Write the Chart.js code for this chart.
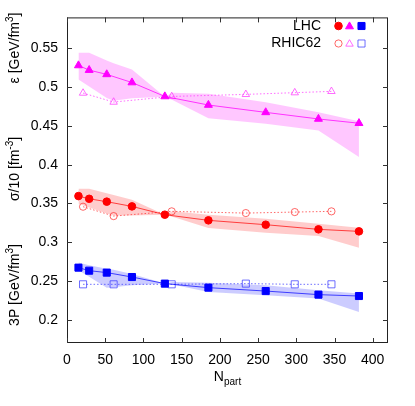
<!DOCTYPE html>
<html>
<head>
<meta charset="utf-8">
<script src="https://cdn.jsdelivr.net/npm/chart.js@4/dist/chart.umd.min.js"></script>
<style>
html,body{margin:0;padding:0;background:#fff;}
canvas{display:block;}
</style>
</head>
<body>
<canvas id="c" width="415" height="406"></canvas>
<script>
// ---- data ----
const nLHC = [15, 29, 52, 85, 128, 185, 260, 329, 382];
const epsLHC = [0.528, 0.522, 0.5165, 0.506, 0.488, 0.477, 0.4675, 0.459, 0.4535];
const sigLHC = [0.3595, 0.356, 0.3523, 0.3462, 0.3355, 0.3282, 0.3226, 0.3166, 0.314];
const pLHC = [0.2672, 0.2633, 0.2608, 0.2551, 0.2466, 0.2414, 0.237, 0.2324, 0.2306];

const nRHIC = [21, 61, 137, 234, 298, 346];
const epsRHIC = [0.4924, 0.4808, 0.488, 0.4907, 0.4929, 0.4946];
const sigRHIC = [0.3458, 0.3337, 0.3398, 0.3376, 0.3389, 0.3398];
const pRHIC = [0.2457, 0.2457, 0.2457, 0.2466, 0.2457, 0.2457];

const nBand = [15, 29, 52, 61, 85, 128, 138, 185, 260, 329, 382];
const epsBandHi = [0.5443, 0.5443, 0.5344, 0.531, 0.5228, 0.4878, 0.4928, 0.4915, 0.4807, 0.4678, 0.4562];
const epsBandLo = [0.5099, 0.501, 0.486, 0.4825, 0.4858, 0.4878, 0.4835, 0.460, 0.4528, 0.4442, 0.4098];
const sigBandHi = [0.369, 0.369, 0.3631, 0.361, 0.3549, 0.3355, 0.3399, 0.3355, 0.3304, 0.3239, 0.3188];
const sigBandLo = [0.3497, 0.3447, 0.337, 0.3346, 0.3346, 0.3355, 0.333, 0.3183, 0.3123, 0.308, 0.293];
const pBandHi = [0.2737, 0.2702, 0.2659, 0.2645, 0.259, 0.2466, 0.2487, 0.2478, 0.2444, 0.2379, 0.2337];
const pBandLo = [0.2637, 0.2554, 0.2414, 0.242, 0.2444, 0.2466, 0.2455, 0.2358, 0.2315, 0.2273, 0.21];

const xTicks = [0, 50, 100, 150, 200, 250, 300, 350, 400];
const yTicks = [0.2, 0.25, 0.3, 0.35, 0.4, 0.45, 0.5, 0.55];
const xMin = 0, xMax = 420, yMin = 0.17, yMax = 0.59;

// ---- helpers ----
const pts = (xs, ys) => xs.map((x, i) => ({x: x, y: ys[i]}));
const FONT = "'Liberation Sans', Arial, Helvetica, sans-serif";
Chart.defaults.font.family = FONT;
Chart.defaults.font.size = 14;
Chart.defaults.color = '#000';

function band(hi, lo, color) {
  return [
    {data: pts(nBand, hi), showLine: true, borderWidth: 0, pointRadius: 0, fill: '+1', backgroundColor: color, borderColor: 'rgba(0,0,0,0)', order: 10},
    {data: pts(nBand, lo), showLine: true, borderWidth: 0, pointRadius: 0, fill: false, borderColor: 'rgba(0,0,0,0)', order: 10}
  ];
}
function lhc(ys, style, color, lineColor, r) {
  return {data: pts(nLHC, ys), showLine: true, borderColor: lineColor, borderWidth: 1, pointStyle: style, pointRadius: r,
    pointBackgroundColor: color, pointBorderColor: color, pointBorderWidth: 1, fill: false, order: 1};
}
function rhic(ys, style, color, r) {
  return {data: pts(nRHIC, ys), showLine: true, borderColor: color, borderWidth: 1, borderDash: [1.5, 2], pointStyle: style, pointRadius: r,
    pointBackgroundColor: 'rgba(0,0,0,0)', pointBorderColor: color, pointBorderWidth: 1, fill: false, order: 5};
}

const datasets = [
  ...band(epsBandHi, epsBandLo, 'rgba(255,0,255,0.22)'),
  ...band(sigBandHi, sigBandLo, 'rgba(255,0,0,0.2)'),
  ...band(pBandHi, pBandLo, 'rgba(0,0,255,0.2)'),
  rhic(epsRHIC, 'triangle', 'rgba(255,60,255,0.75)', 4.3),
  rhic(sigRHIC, 'circle', 'rgba(255,40,40,0.7)', 3.6),
  rhic(pRHIC, 'rect', 'rgba(50,50,255,0.7)', 5.0),
  lhc(epsLHC, 'triangle', '#ff00ff', 'rgba(255,0,255,0.75)', 4.6),
  lhc(sigLHC, 'circle', '#ff0000', 'rgba(255,0,0,0.7)', 3.8),
  lhc(pLHC, 'rect', '#0000ff', 'rgba(0,0,255,0.7)', 5.0)
];

function drawRich(ctx, parts, x, y) {
  // parts: [text, mode] mode 0 normal, 1 super, -1 sub
  const fonts = {0: '14px ' + FONT, 1: '10px ' + FONT, '-1': '10px ' + FONT};
  let w = 0;
  parts.forEach(p => { ctx.font = fonts[p[1]]; w += ctx.measureText(p[0]).width; });
  let cx = x - w / 2;
  ctx.textAlign = 'left';
  ctx.textBaseline = 'middle';
  parts.forEach(p => {
    ctx.font = fonts[p[1]];
    const dy = p[1] === 1 ? -5 : (p[1] === -1 ? 5 : 0);
    ctx.fillText(p[0], cx, y + dy);
    cx += ctx.measureText(p[0]).width;
  });
}

function marker(ctx, style, x, y, r, color, filled) {
  ctx.save();
  ctx.beginPath();
  if (style === 'circle') {
    ctx.arc(x, y, r, 0, Math.PI * 2);
  } else if (style === 'triangle') {
    ctx.moveTo(x, y - r);
    ctx.lineTo(x + r * 0.866, y + r * 0.5);
    ctx.lineTo(x - r * 0.866, y + r * 0.5);
    ctx.closePath();
  } else {
    const s = r * Math.SQRT1_2;
    ctx.rect(x - s, y - s, 2 * s, 2 * s);
  }
  ctx.lineWidth = 1;
  ctx.strokeStyle = color;
  if (filled) { ctx.fillStyle = color; ctx.fill(); }
  ctx.stroke();
  ctx.restore();
}

const decor = {
  id: 'decor',
  afterDraw(chart) {
    const ctx = chart.ctx;
    const a = chart.chartArea;
    const xs = chart.scales.x, ys = chart.scales.y;
    ctx.save();
    // frame
    ctx.strokeStyle = '#222';
    ctx.lineWidth = 1;
    ctx.strokeRect(a.left + 0.5, a.top + 0.5, a.right - a.left - 1, a.bottom - a.top - 1);
    // ticks
    ctx.strokeStyle = '#333';
    ctx.beginPath();
    const TL = 5;
    xTicks.forEach(v => {
      const px = Math.round(xs.getPixelForValue(v)) + 0.5;
      ctx.moveTo(px, a.bottom); ctx.lineTo(px, a.bottom - TL);
      ctx.moveTo(px, a.top); ctx.lineTo(px, a.top + TL);
    });
    yTicks.forEach(v => {
      const py = Math.round(ys.getPixelForValue(v)) + 0.5;
      ctx.moveTo(a.left, py); ctx.lineTo(a.left + TL, py);
      ctx.moveTo(a.right, py); ctx.lineTo(a.right - TL, py);
    });
    ctx.stroke();
    // y titles (rotated)
    ctx.fillStyle = '#000';
    const titles = [
      [[['ε [GeV/fm', 0], ['3', 1], [']', 0]], 48],
      [[['σ/10 [fm', 0], ['-3', 1], [']', 0]], 169],
      [[['3P [GeV/fm', 0], ['3', 1], [']', 0]], 285]
    ];
    titles.forEach(t => {
      ctx.save();
      ctx.translate(15, t[1]);
      ctx.rotate(-Math.PI / 2);
      drawRich(ctx, t[0], 0, 0);
      ctx.restore();
    });
    // x title
    drawRich(ctx, [['N', 0], ['part', -1]], (a.left + a.right) / 2, 377);
    // legend
    ctx.font = '14px ' + FONT;
    ctx.textAlign = 'right';
    ctx.textBaseline = 'middle';
    ctx.fillStyle = '#000';
    ctx.fillText('LHC', 321, 26);
    ctx.fillText('RHIC62', 321, 43);
    marker(ctx, 'circle', 338.5, 26, 3.8, '#ff0000', true);
    marker(ctx, 'triangle', 349.5, 26.5, 4.6, '#ff00ff', true);
    marker(ctx, 'rect', 361.5, 26, 5.0, '#0000ff', true);
    marker(ctx, 'circle', 338.5, 43.5, 3.6, 'rgba(255,40,40,0.7)', false);
    marker(ctx, 'triangle', 349.5, 44, 4.3, 'rgba(255,60,255,0.75)', false);
    marker(ctx, 'rect', 361.5, 43.5, 5.0, 'rgba(50,50,255,0.7)', false);
    ctx.restore();
  }
};

new Chart(document.getElementById('c'), {
  type: 'scatter',
  data: {datasets: datasets},
  options: {
    responsive: false,
    animation: false,
    devicePixelRatio: 1,
    layout: {padding: {left: 0, right: 27, top: 16, bottom: 0}},
    plugins: {
      legend: {display: false},
      tooltip: {enabled: false},
      filler: {drawTime: 'beforeDatasetsDraw', propagate: false}
    },
    scales: {
      x: {
        type: 'linear', min: xMin, max: xMax,
        grid: {display: false, drawTicks: false},
        border: {display: false},
        ticks: {padding: 9, font: {size: 14}, color: '#000', callback: v => String(v)},
        afterBuildTicks: s => { s.ticks = xTicks.map(v => ({value: v})); },
        afterFit: s => { s.height = 63; }
      },
      y: {
        type: 'linear', min: yMin, max: yMax,
        grid: {display: false, drawTicks: false},
        border: {display: false},
        ticks: {padding: 9, font: {size: 14}, color: '#000', callback: v => String(+Number(v).toFixed(2))},
        afterBuildTicks: s => { s.ticks = yTicks.map(v => ({value: v})); },
        afterFit: s => { s.width = 67; }
      }
    }
  },
  plugins: [decor]
});
</script>
</body>
</html>
